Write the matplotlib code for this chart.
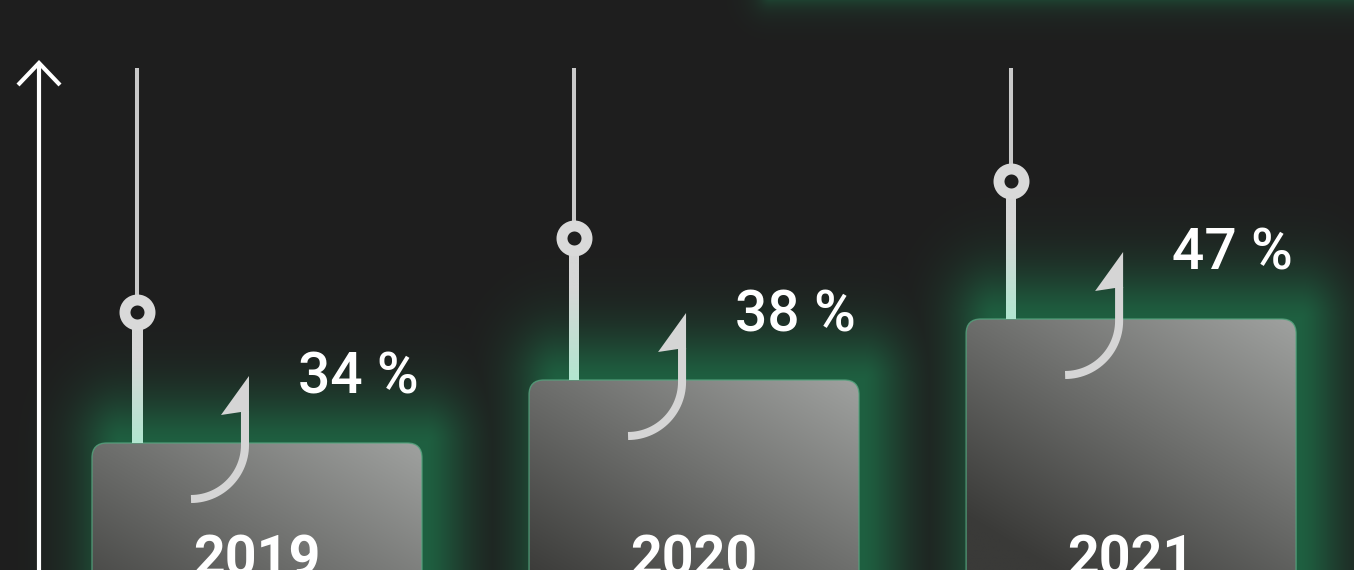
#!/usr/bin/env python3

import numpy as np
import matplotlib.pyplot as plt
from matplotlib.patches import FancyBboxPatch, Polygon
from matplotlib.transforms import ScaledTranslation
from matplotlib.colors import to_rgb

# Values
years = ["2019", "2020", "2021"]
growth = [34, 38, 47]                 # percent labels
bar_heights = [1.27, 1.90, 2.51]      # bar tops (chart units)
marker_levels = [2.58, 3.32, 3.89]    # ring markers on the stems
stem_top = 5.02

BG = "#1e1e1e"
GREEN = np.array(to_rgb("#1f7049"))
W, H = 1354, 570
X0, X1 = -0.588, 2.510
Y0, Y1 = 0.0, 5.70
BAR_W = 0.755

plt.rcParams["font.family"] = ["Roboto", "DejaVu Sans"]

fig = plt.figure(figsize=(W / 100, H / 100), dpi=100, facecolor=BG)
ax = fig.add_axes([0, 0, 1, 1])
ax.set_facecolor(BG)
ax.set_xlim(X0, X1)
ax.set_ylim(Y0, Y1)
ax.axis("off")

px_x = W / (X1 - X0)
px_y = H / (Y1 - Y0)
xs = np.arange(len(years))


def rect_dist(px, py, left, right, top, bottom, up_squash=1.0):
    # distance in pixels from a rectangle (pixel coords, y down)
    dx = np.maximum(np.maximum(left - px, px - right), 0)
    dy = np.maximum(np.maximum(top - py, py - bottom), 0)
    dy = np.where(py < top, dy * up_squash, dy)
    return np.hypot(dx, dy)


# green glow layer behind the bars (pushed to the right like the original)
gy, gx = np.mgrid[0:H, 0:W] + 0.5
glow = np.zeros((H, W))
for x, h in zip(xs, bar_heights):
    left = (x - BAR_W / 2 - X0) * px_x + 30
    right = (x + BAR_W / 2 - X0) * px_x + 4
    top = (Y1 - h) * px_y
    d = rect_dist(gx, gy, left, right, top, H + 200, up_squash=0.85)
    glow = np.maximum(glow, 0.8 * np.exp(-(d / 44.0) ** 1.6))
# panel glowing just above the top right edge
d = rect_dist(gx, gy, 770, W + 300, -300, -4)
glow = np.maximum(glow, 0.6 * np.exp(-d / 12.0))
rgba = np.zeros((H, W, 4))
rgba[..., :3] = GREEN
rgba[..., 3] = glow
ax.imshow(rgba, extent=[X0, X1, Y0, Y1], origin="upper", aspect="auto",
          zorder=1, interpolation="bilinear")

# bars with a diagonal grey gradient
c_dark = np.array(to_rgb("#3a3a38"))
c_light = np.array(to_rgb("#9fa19f"))
for x, h in zip(xs, bar_heights):
    left = x - BAR_W / 2
    bottom = -0.4
    patch = FancyBboxPatch((left, bottom), BAR_W, h - bottom,
                           boxstyle="round,pad=0,rounding_size=0.034",
                           mutation_aspect=px_x / px_y,
                           facecolor="none", edgecolor="#55a47e", lw=1.0,
                           alpha=0.8, zorder=3)
    ax.add_patch(patch)
    ny, nx = 80, 80
    u = np.linspace(0, 1, nx)[None, :]
    depth = np.linspace(0, (h - bottom) * px_y, ny)[:, None]   # px below top
    t = np.clip(0.5 * u + 0.5 * (1 - depth / 200.0), 0, 1)
    img = c_dark + (c_light - c_dark) * t[..., None]
    im = ax.imshow(img, extent=[left, left + BAR_W, bottom, h], origin="upper",
                   aspect="auto", zorder=2, interpolation="bilinear")
    im.set_clip_path(patch)

# stems with ring markers
STEM_DX = -120 / px_x
STEM_HW = 5 / px_x
mint = np.array(to_rgb("#b2e6d0"))
grey = np.array(to_rgb("#d6d6d6"))
for x, h, m in zip(xs, bar_heights, marker_levels):
    lx = x + STEM_DX
    ax.plot([lx, lx], [m, stem_top], color="#c9c9c9", lw=2.9,
            solid_capstyle="butt", zorder=4)
    s = np.linspace(0, 1, 50)[:, None]     # 0 at marker, 1 at bar top
    k = np.clip((s - 0.35) / 0.65, 0, 1)
    col = grey * (1 - k) + mint * k
    stem_img = np.repeat(col[:, None, :], 2, axis=1)
    ax.imshow(stem_img, extent=[lx - STEM_HW, lx + STEM_HW, h, m],
              origin="upper", aspect="auto", zorder=4,
              interpolation="bilinear")
    ax.plot(lx, m, "o", ms=18, mfc=BG, mec="#d9d9d9", mew=7.9, zorder=5)

# hook arrows (shape in pixels, anchored to each bar top)
theta = np.linspace(0, -np.pi / 2, 30)
arc = np.column_stack([-66 + 54 * np.cos(theta), -2 + 54 * np.sin(theta)])
shaft = np.vstack([[-12, 32], arc]) / 100
head = np.array([[-8, 67], [-36, 28], [-16, 31], [-8, 31]]) / 100
for x, h in zip(xs, bar_heights):
    tr = fig.dpi_scale_trans + ScaledTranslation(x, h, ax.transData)
    ax.plot(shaft[:, 0], shaft[:, 1], color="#d5d5d5", lw=5.8,
            solid_capstyle="butt", transform=tr, zorder=6)
    ax.add_patch(Polygon(head, closed=True, facecolor="#d5d5d5",
                         edgecolor="none", transform=tr, zorder=6))

# labels
for x, h, g, yr in zip(xs, bar_heights, growth, years):
    ax.annotate(f"{g} %", xy=(x, h), xytext=(41 * 0.72, 49 * 0.72),
                textcoords="offset points", ha="left", va="baseline",
                fontsize=41, color="white", fontweight="medium", zorder=7)
    ax.annotate(yr, xy=(x, Y0), xytext=(0, -6 * 0.72),
                textcoords="offset points", ha="center", va="baseline",
                fontsize=40, color="white", fontweight="bold", zorder=7,
                annotation_clip=False)

# left axis arrow
ax.plot([39 / W, 39 / W], [-0.02, 1 - 64 / H], color="white", lw=3.0,
        transform=ax.transAxes, zorder=6, solid_capstyle="butt")
ax.plot([18 / W, 39 / W, 60 / W], [1 - 85 / H, 1 - 63 / H, 1 - 85 / H],
        color="white", lw=3.0, transform=ax.transAxes, zorder=6,
        solid_joinstyle="miter", solid_capstyle="butt")

fig.savefig("out.png", dpi=100, facecolor=BG)
